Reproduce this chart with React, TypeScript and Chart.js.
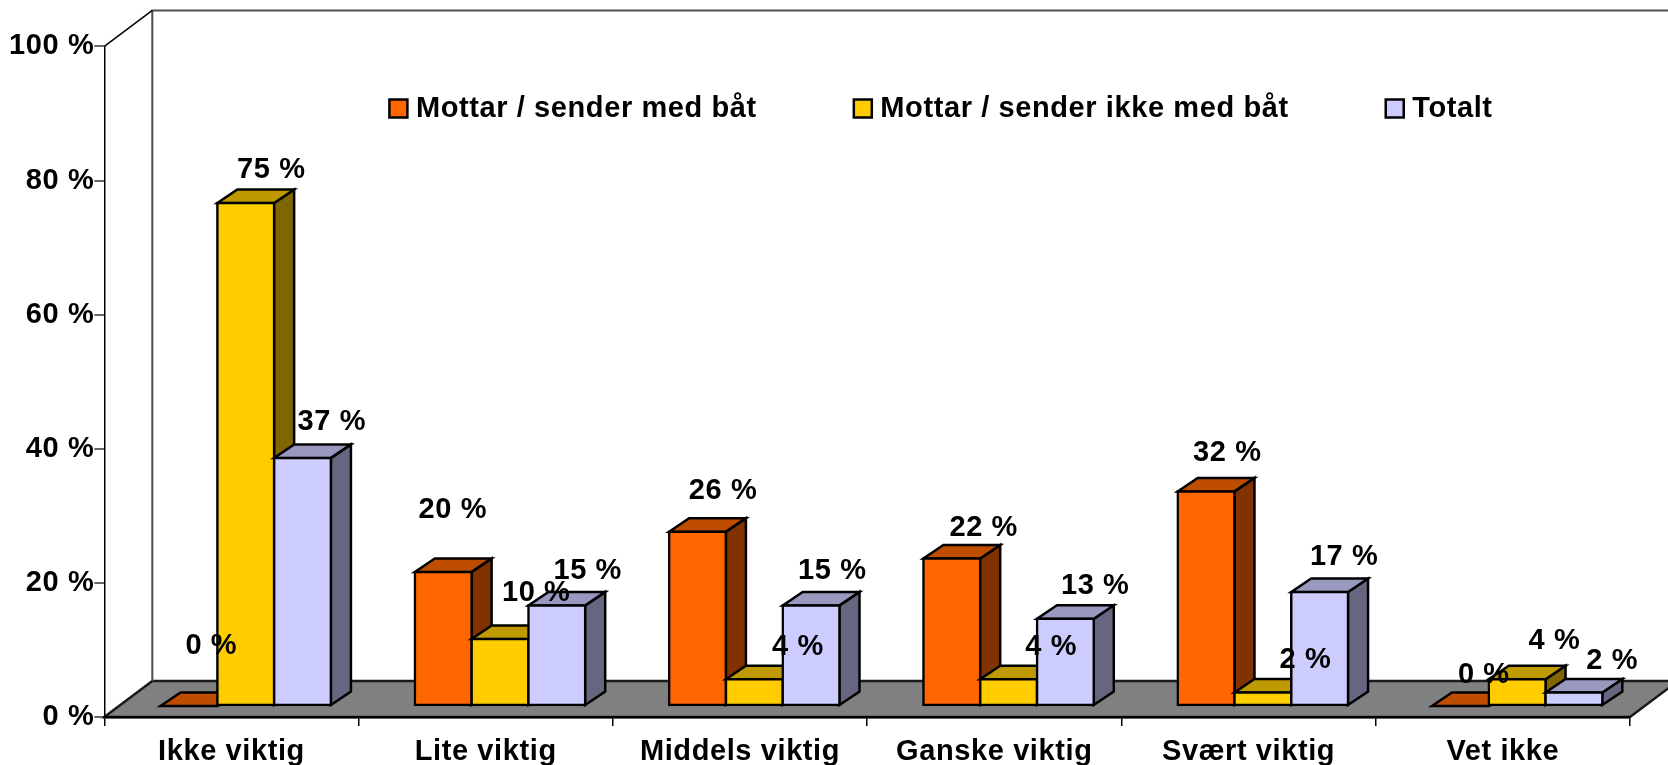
import React, { useEffect, useRef } from "react";
import { Chart, registerables } from "chart.js";

Chart.register(...registerables);

const categories = ["Ikke viktig", "Lite viktig", "Middels viktig", "Ganske viktig", "Svært viktig", "Vet ikke"];
const seriesNames = ["Mottar / sender med båt", "Mottar / sender ikke med båt", "Totalt"];
const medBat = [0, 20, 26, 22, 32, 0];
const ikkeMedBat = [75, 10, 4, 4, 2, 4];
const totalt = [37, 15, 15, 13, 17, 2];
const yTicks = { min: 0, max: 100, step: 20 };

// Hand-placed data label positions, relative to each bar's front top centre.
const S = 1.0638;
const labelNudges = [
  [[21, -57], [9, -59], [24, -39], [30, -30], [20, -37], [22, -30]],
  [[24, -32], [34, -44], [41, -31], [40, -31], [40, -32], [35, -37]],
  [[27.5, -35], [29, -33], [20, -33], [28, -32], [23, -34], [36, -31]],
];

const FONT = "'Liberation Sans', Arial, sans-serif";
const FONT_SIZE = 29;
const SPACING = "0.6px";
const FLOOR_DX = 48, FLOOR_DY = 36;
const BAR_OFFSET_X = 14.3, BAR_OFFSET_Y = 11;
const BAR_DX = 20, BAR_DY = 13.5;
const EDGE = 2.5;
const FACES = [
  { front: "#FF6600", top: "#BF4D00", side: "#803300" },
  { front: "#FFCC00", top: "#BF9900", side: "#806600" },
  { front: "#CCCCFF", top: "#9999BF", side: "#666680" },
];
const LEGEND_PAD = 103;
const LEGEND_LINE = FONT_SIZE * 1.2;

function poly(ctx: CanvasRenderingContext2D, pts: number[][], fill: string | null, stroke: string, lw: number) {
  ctx.beginPath();
  pts.forEach((p, i) => (i ? ctx.lineTo(p[0], p[1]) : ctx.moveTo(p[0], p[1])));
  if (fill) {
    ctx.closePath();
    ctx.fillStyle = fill;
    ctx.fill();
  }
  ctx.strokeStyle = stroke;
  ctx.lineWidth = lw;
  ctx.lineJoin = "miter";
  ctx.stroke();
}

const spacingPlugin = {
  id: "spacing",
  beforeUpdate(chart: any) { chart.ctx.letterSpacing = SPACING; },
  beforeDraw(chart: any) { chart.ctx.letterSpacing = SPACING; },
};

const legendMove = {
  id: "legendMove",
  afterLayout(chart: any) {
    const l = chart.legend;
    l.left = 395.4 - LEGEND_PAD;
    l.right = 3000;
    l.top = 111.4 - LEGEND_LINE / 2 - LEGEND_PAD;
    l.bottom = l.top + 400;
  },
};

const roomPlugin = {
  id: "room",
  beforeDraw(chart: any) {
    const { ctx, chartArea: a, width } = chart;
    const { left: l, right: r, top: t, bottom: b } = a;
    ctx.save();
    poly(ctx, [[l, b], [r, b], [r + FLOOR_DX, b - FLOOR_DY], [l + FLOOR_DX, b - FLOOR_DY]], "#808080", "#1a1a1a", 2.5);
    poly(ctx, [[l + FLOOR_DX, b - FLOOR_DY], [l + FLOOR_DX, t - FLOOR_DY], [width + 2, t - FLOOR_DY]], null, "#4d4d4d", 2);
    poly(ctx, [[l, t], [l + FLOOR_DX, t - FLOOR_DY]], null, "#000000", 1.5);
    ctx.restore();
  },
};

// Draws the bar elements itself so that series run back-to-front left to right,
// with the side and top faces behind each front.
const bars3d = {
  id: "bars3d",
  beforeDatasetsDraw(chart: any) {
    const { ctx } = chart;
    ctx.save();
    ctx.translate(BAR_OFFSET_X, -BAR_OFFSET_Y);
    chart.data.datasets.forEach((_: any, i: number) => {
      const face = FACES[i];
      chart.getDatasetMeta(i).data.forEach((bar: any) => {
        const { x, y, base, width } = bar.getProps(["x", "y", "base", "width"], true);
        const L = x - width / 2, R = x + width / 2;
        poly(ctx, [[R, y], [R + BAR_DX, y - BAR_DY], [R + BAR_DX, base - BAR_DY], [R, base]], face.side, "#000", EDGE);
        poly(ctx, [[L, y], [R, y], [R + BAR_DX, y - BAR_DY], [L + BAR_DX, y - BAR_DY]], face.top, "#000", EDGE);
        bar.draw(ctx);
      });
    });
    ctx.restore();
  },
  beforeDatasetDraw() {
    return false;
  },
};

const valueLabels = {
  id: "valueLabels",
  afterDatasetsDraw(chart: any) {
    const { ctx } = chart;
    ctx.save();
    ctx.font = `bold ${FONT_SIZE}px ${FONT}`;
    ctx.fillStyle = "#000";
    ctx.textAlign = "center";
    ctx.textBaseline = "middle";
    chart.data.datasets.forEach((ds: any, i: number) => {
      chart.getDatasetMeta(i).data.forEach((bar: any, j: number) => {
        const [nx, ny] = labelNudges[i][j];
        ctx.fillText(`${ds.data[j]} %`, bar.x + BAR_OFFSET_X + nx * S, bar.y - BAR_OFFSET_Y + ny * S + 1);
      });
    });
    ctx.restore();
  },
};

export default function App() {
  const ref = useRef<HTMLCanvasElement>(null);
  useEffect(() => {
    document.body.style.margin = "0";
    document.body.style.overflow = "hidden";
    const values = [medBat, ikkeMedBat, totalt];
    const chart = new Chart(ref.current as HTMLCanvasElement, {
      type: "bar",
      data: {
        labels: categories,
        datasets: seriesNames.map((label, i) => ({
          label,
          data: values[i],
          backgroundColor: FACES[i].front,
          borderColor: "#000",
          borderWidth: EDGE,
          borderSkipped: false,
          inflateAmount: EDGE / 2,
          clip: false,
          categoryPercentage: 0.67,
          barPercentage: 1,
        })),
      },
      options: {
        responsive: false,
        animation: false,
        layout: { padding: { left: 0, right: 38, top: 51 - (33.6 + LEGEND_PAD + 10), bottom: 0 } },
        font: { family: FONT },
        plugins: {
          tooltip: { enabled: false },
          legend: {
            position: "top",
            align: "start",
            labels: {
              color: "#000",
              font: { family: FONT, size: FONT_SIZE, weight: "bold" },
              usePointStyle: true,
              pointStyle: "rect",
              boxWidth: 6,
              boxHeight: 18,
              padding: LEGEND_PAD,
            },
          },
        },
        scales: {
          x: {
            afterFit(s: any) { s.height = 48; },
            grid: { drawOnChartArea: false, drawTicks: true, tickLength: 9, color: "#000", lineWidth: 1.5 },
            border: { display: true, color: "#000", width: 2.5 },
            ticks: {
              color: "#000",
              padding: 9,
              maxRotation: 0,
              autoSkip: false,
              font: { family: FONT, size: FONT_SIZE, weight: "bold" },
            },
          },
          y: {
            min: yTicks.min,
            max: yTicks.max,
            afterFit(s: any) { s.width = 104.3; },
            grid: { drawOnChartArea: false, drawTicks: true, tickLength: 10, color: "#666", lineWidth: 2 },
            border: { display: true, color: "#000", width: 1.5 },
            ticks: {
              stepSize: yTicks.step,
              color: "#000",
              padding: 0,
              font: { family: FONT, size: FONT_SIZE, weight: "bold" },
              callback: (v: any) => `${v} %`,
            },
          },
        },
      } as any,
      plugins: [spacingPlugin, legendMove, roomPlugin, bars3d, valueLabels],
    });
    return () => chart.destroy();
  }, []);
  return <canvas ref={ref} width={1668} height={765} style={{ display: "block" }} />;
}
